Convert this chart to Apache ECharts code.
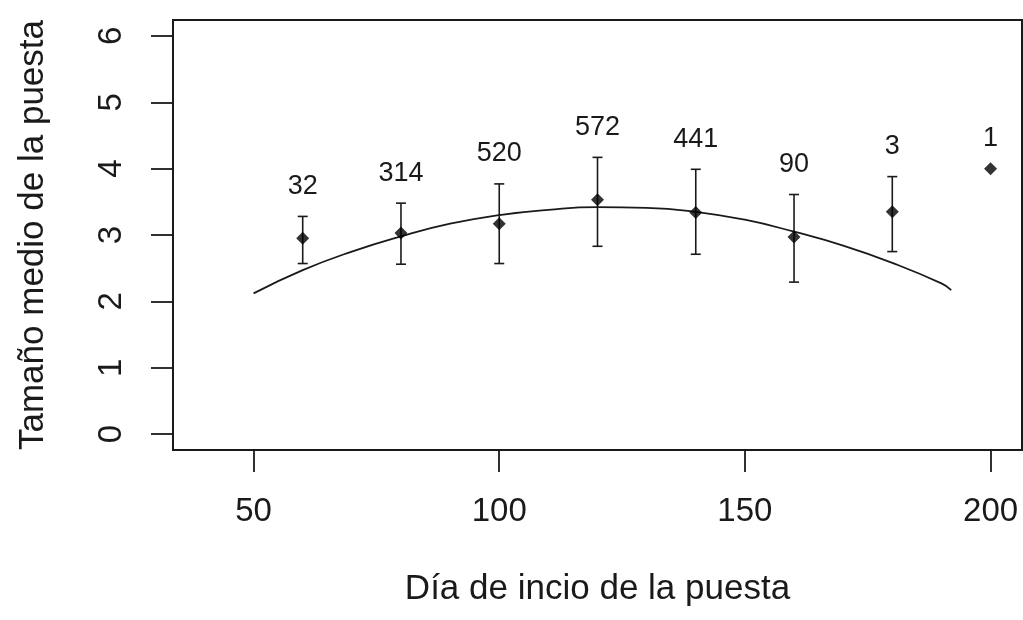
<!DOCTYPE html>
<html>
<head>
<meta charset="utf-8">
<script src="https://cdn.jsdelivr.net/npm/echarts@6/dist/echarts.min.js"></script>
<style>
html,body{margin:0;padding:0;background:#fff;}
#chart{width:1023px;height:620px;}
</style>
</head>
<body>
<div id="chart"></div>
<script>
// ---- data ----
var days   = [60, 80, 100, 120, 140, 160, 180, 200];
var means  = [2.95, 3.03, 3.17, 3.53, 3.34, 2.97, 3.35, 4.00];
var upper  = [3.28, 3.48, 3.77, 4.17, 3.99, 3.61, 3.88, null];
var lower  = [2.57, 2.56, 2.57, 2.83, 2.71, 2.29, 2.75, null];
var counts = [32, 314, 520, 572, 441, 90, 3, 1];

// fitted curve
var curveX = [50, 60, 70, 80, 90, 100, 110, 120, 130, 140, 150, 160, 170, 180, 190, 192];
var curveY = [2.12, 2.47, 2.75, 2.98, 3.17, 3.30, 3.38, 3.42, 3.41, 3.35, 3.23, 3.05, 2.84, 2.58, 2.27, 2.17];

var xTicks = [50, 100, 150, 200];
var yTicks = [0, 1, 2, 3, 4, 5, 6];

var FONT = '"Liberation Sans", Arial, sans-serif';
var INK = '#1a1a1a';

var chart = echarts.init(document.getElementById('chart'));

var barData = days.map(function (d, i) {
  return [d, means[i], lower[i], upper[i], counts[i]];
});
var curveData = curveX.map(function (x, i) { return [x, curveY[i]]; });
var pointData = days.map(function (d, i) { return [d, means[i]]; });

function renderBar(params, api) {
  var x = api.value(0);
  var m = api.value(1);
  var lo = api.value(2);
  var hi = api.value(3);
  var n = api.value(4);
  var children = [];
  var capHalf = 5;
  var topVal = m;
  if (hi != null && !isNaN(hi) && lo != null && !isNaN(lo)) {
    var pHi = api.coord([x, hi]);
    var pLo = api.coord([x, lo]);
    var st = {stroke: INK, lineWidth: 1.6};
    children.push({type: 'line', shape: {x1: pHi[0], y1: pHi[1], x2: pLo[0], y2: pLo[1]}, style: st});
    children.push({type: 'line', shape: {x1: pHi[0] - capHalf, y1: pHi[1], x2: pHi[0] + capHalf, y2: pHi[1]}, style: st});
    children.push({type: 'line', shape: {x1: pLo[0] - capHalf, y1: pLo[1], x2: pLo[0] + capHalf, y2: pLo[1]}, style: st});
    topVal = hi;
  }
  var pTop = api.coord([x, topVal]);
  children.push({
    type: 'text',
    style: {
      text: String(n), x: pTop[0], y: pTop[1] - 30,
      align: 'center', verticalAlign: 'middle',
      font: '27px ' + FONT, fill: INK
    }
  });
  return {type: 'group', children: children};
}

var option = {
  animation: false,
  backgroundColor: '#fff',
  grid: {
    left: 173, right: 1, top: 20, bottom: 170,
    show: true, borderColor: '#1a1a1a', borderWidth: 2, backgroundColor: 'transparent'
  },
  xAxis: {
    type: 'value', min: 33.6, max: 206.4,
    name: 'Día de incio de la puesta', nameLocation: 'middle', nameGap: 122,
    nameTextStyle: {fontFamily: FONT, fontSize: 35, color: INK},
    axisLine: {show: false, onZero: false},
    splitLine: {show: false},
    axisTick: {show: true, length: 22, customValues: xTicks, lineStyle: {color: '#1a1a1a', width: 1.8}},
    axisLabel: {customValues: xTicks, margin: 45, fontFamily: FONT, fontSize: 33, color: INK}
  },
  yAxis: {
    type: 'value', min: -0.24, max: 6.24,
    name: 'Tamaño medio de la puesta', nameLocation: 'middle', nameGap: 122, nameRotate: 90,
    nameTextStyle: {fontFamily: FONT, fontSize: 35, color: INK},
    axisLine: {show: false, onZero: false},
    splitLine: {show: false},
    axisTick: {show: true, length: 22, customValues: yTicks, lineStyle: {color: '#1a1a1a', width: 1.8}},
    axisLabel: {customValues: yTicks, rotate: 90, margin: 45, fontFamily: FONT, fontSize: 33, color: INK}
  },
  series: [
    {
      type: 'line', data: curveData, smooth: true, showSymbol: false,
      lineStyle: {color: INK, width: 1.8}, silent: true, z: 2
    },
    {
      type: 'custom', data: barData, renderItem: renderBar,
      encode: {x: 0, y: [1, 2, 3]}, silent: true, z: 3
    },
    {
      type: 'scatter', data: pointData, symbol: 'diamond', symbolSize: 13,
      itemStyle: {color: '#000'}, silent: true, z: 4
    }
  ]
};
chart.setOption(option);
</script>
</body>
</html>
